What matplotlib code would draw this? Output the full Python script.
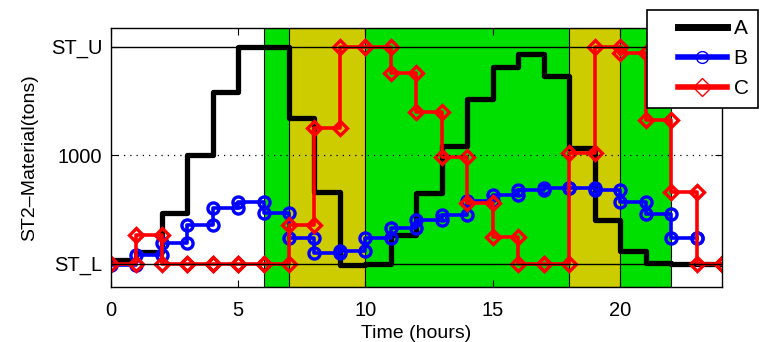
import numpy as np
import matplotlib
matplotlib.use('Agg')
import matplotlib.pyplot as plt
from matplotlib.lines import Line2D
from matplotlib.legend_handler import HandlerLine2D

plt.rcParams['font.family'] = ['Liberation Sans', 'DejaVu Sans']

# levels used for the y axis
ST_L = 200
ST_U = 1800
MID = 1000

hours = np.arange(0, 25)

# stock levels per hour (last value is the end point)
A = [225, 287, 573, 1001, 1466, 1800, 1800, 1274, 728, 190, 195, 410, 720,
     1067, 1414, 1650, 1746, 1584, 1052, 521, 290, 201, 196, 196, 196]
B = [189, 263, 351, 484, 607, 656, 570, 386, 275, 292, 388, 462, 521, 558,
     661, 705, 742, 755, 755, 742, 656, 565, 386, 386]
C = [200, 410, 200, 200, 200, 200, 200, 485, 1198, 1800, 1800, 1604, 1320,
     988, 644, 398, 200, 200, 1013, 1800, 1751, 1259, 730, 200, 200]

green_span = (6, 22)
yellow_spans = [(7, 10), (18, 20)]


def stair(x, v):
    # MATLAB style stairs: vertices at both corners of every step
    xs, ys = [x[0]], [v[0]]
    for i in range(1, len(v)):
        xs += [x[i], x[i]]
        ys += [v[i - 1], v[i]]
    return xs, ys


fig = plt.figure(figsize=(7.62, 3.42), dpi=100)
ax = fig.add_axes([0.1453, 0.1617, 0.8022, 0.7556])

green = '#00e000'
yellow = '#cccc00'
ax.axvspan(green_span[0], green_span[1], facecolor=green, edgecolor='k', lw=0.8, zorder=0)
for s in yellow_spans:
    ax.axvspan(s[0], s[1], facecolor=yellow, edgecolor='k', lw=0.8, zorder=0.5)

xa, ya = stair(hours, A)
ax.plot(xa, ya, color='k', lw=3.8, zorder=2)
xb, yb = stair(hours[:len(B)], B)
ax.plot(xb, yb, color='b', lw=2.6, marker='o', ms=8, mfc='none', mew=2.4, zorder=3)
xc, yc = stair(hours, C)
ax.plot(xc, yc, color='r', lw=2.6, marker='D', ms=7.5, mfc='none', mew=2.4, zorder=4)

ax.axhline(ST_U, color='k', lw=1, zorder=5)
ax.axhline(ST_L, color='k', lw=1, zorder=5)
ax.axhline(MID, color='k', lw=0.9, ls=(0, (1, 4)), zorder=5)

ax.set_xlim(0, 24)
ax.set_ylim(29, 1936)
ax.set_xticks([0, 5, 10, 15, 20])
ax.set_yticks([ST_L, MID, ST_U])
ax.set_yticklabels(['ST_L', '1000', 'ST_U'])
ax.tick_params(direction='in', length=5, top=True, right=True, labelsize=14.5)
ax.tick_params(axis='x', pad=10)
ax.tick_params(axis='y', pad=6)
for sp in ax.spines.values():
    sp.set_linewidth(1)
    sp.set_zorder(6)
ax.set_xlabel('Time (hours)', fontsize=14, labelpad=4)
ax.set_ylabel('ST2\u2013Material(tons)', fontsize=14, labelpad=9)

handles = [
    Line2D([], [], color='k', lw=5),
    Line2D([], [], color='b', lw=4, marker='o', ms=8.5, mfc='none', mew=1),
    Line2D([], [], color='r', lw=4, marker='D', ms=9, mfc='none', mew=1),
]
hmap = {h: HandlerLine2D(numpoints=1, xpad=1.08) for h in handles}
leg = fig.legend(handles, ['A', 'B', 'C'], loc='upper right', handler_map=hmap,
                 bbox_to_anchor=(758 / 762, 1 - 9.5 / 342), bbox_transform=fig.transFigure,
                 fontsize=15, frameon=True, fancybox=False, framealpha=1,
                 edgecolor='k', handlelength=3.39, borderaxespad=0, labelspacing=0.54,
                 handletextpad=0.34, borderpad=0.45)
leg.get_frame().set_linewidth(1.2)
leg.set_zorder(10)

fig.savefig('out.png', dpi=100)
